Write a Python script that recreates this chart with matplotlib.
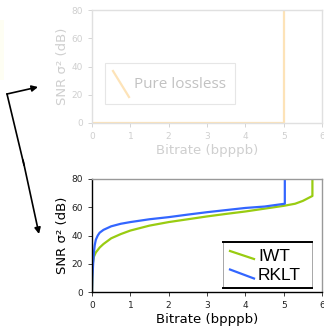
import matplotlib
matplotlib.use("Agg")
import matplotlib.pyplot as plt

# ---- data ----
lossless_x = [0, 5, 5]
lossless_y = [0, 0, 80]

iwt_x = [0, 0.01, 0.02, 0.05, 0.1, 0.2, 0.3, 0.5, 0.75, 1.0, 1.5, 2.0, 2.5, 3.0, 3.5, 4.0, 4.5, 5.0, 5.3, 5.5, 5.75, 5.75]
iwt_y = [0, 12, 20, 25, 28, 31.5, 34, 38, 41, 43.5, 47, 49.5, 51.5, 53.5, 55.3, 57, 59, 61, 62.5, 64.5, 68, 80]

rklt_x = [0, 0.01, 0.03, 0.05, 0.07, 0.1, 0.15, 0.2, 0.3, 0.5, 0.75, 1.0, 1.5, 2.0, 2.5, 3.0, 3.5, 4.0, 4.5, 5.03, 5.03]
rklt_y = [0, 10, 20, 28, 33, 37, 40, 42, 44, 46.5, 48.3, 49.5, 51.5, 53, 54.8, 56.5, 58, 59.5, 60.5, 62.5, 80]

xticks = [0, 1, 2, 3, 4, 5, 6]
yticks = [0, 20, 40, 60, 80]

labels_top = ["Pure lossless"]
labels_bottom = ["IWT", "RKLT"]

W, H = 324, 327
C_LOSSLESS = "#fde3b8"
C_IWT = "#99cc11"
C_RKLT = "#3366ff"

fig = plt.figure(figsize=(W / 100, H / 100), dpi=100)

# ---- top (faded) axes ----
fade = "#cfcfcf"
ax1 = fig.add_axes([92 / W, 1 - 123 / H, 230 / W, 113 / H])
ax1.plot(lossless_x, lossless_y, color=C_LOSSLESS, lw=1.6, label=labels_top[0])
ax1.set_xlim(0, 6)
ax1.set_ylim(0, 80)
ax1.set_xticks(xticks)
ax1.set_yticks(yticks)
ax1.tick_params(labelsize=6.5, colors=fade, length=3, width=0.6)
for s in ax1.spines.values():
    s.set_color("#e0e0e0")
    s.set_linewidth(1.0)
ax1.set_xlabel("Bitrate (bpppb)", fontsize=9.5, color=fade, labelpad=2)
ax1.set_ylabel("SNR σ² (dB)", fontsize=9.5, color=fade, labelpad=2)

# ---- bottom axes ----
ax2 = fig.add_axes([92 / W, 1 - 292 / H, 230 / W, 113 / H])
ax2.plot(iwt_x, iwt_y, color=C_IWT, lw=1.6, label=labels_bottom[0])
ax2.plot(rklt_x, rklt_y, color=C_RKLT, lw=1.6, label=labels_bottom[1])
ax2.set_xlim(0, 6)
ax2.set_ylim(0, 80)
ax2.set_xticks(xticks)
ax2.set_yticks(yticks)
ax2.tick_params(labelsize=6.5, colors="#222222", length=3, width=0.6)
ax2.spines["left"].set_color("black")
ax2.spines["bottom"].set_color("black")
ax2.spines["top"].set_color("#999999")
ax2.spines["right"].set_color("#999999")
for s in ax2.spines.values():
    s.set_linewidth(1.0)
ax2.set_xlabel("Bitrate (bpppb)", fontsize=9.5, labelpad=2)
ax2.set_ylabel("SNR σ² (dB)", fontsize=9.5, labelpad=2)

# ---- overlay: arrows and hand-drawn legends (pixel coordinates) ----
ov = fig.add_axes([0, 0, 1, 1], facecolor="none")
ov.set_xlim(0, W)
ov.set_ylim(H, 0)
ov.axis("off")
ov.add_patch(plt.Rectangle((0, 20), 4, 60, color="#fefef3", lw=0))
ov.plot([7, 24], [94, 165], color="black", lw=1.2)
ov.annotate("", xy=(38, 87), xytext=(7, 94),
            arrowprops=dict(arrowstyle="-|>", color="black", lw=1.2,
                            mutation_scale=9, shrinkA=0, shrinkB=0))
ov.annotate("", xy=(39, 234), xytext=(23, 160),
            arrowprops=dict(arrowstyle="-|>", color="black", lw=1.2,
                            mutation_scale=9, shrinkA=0, shrinkB=0))

# top legend
ov.add_patch(plt.Rectangle((105, 63), 130, 41, facecolor="white",
                           edgecolor="#e6e6e6", lw=0.8, zorder=3))
ov.plot([113, 129], [71, 97], color=C_LOSSLESS, lw=1.6, zorder=4)
ov.text(134, 87.5, labels_top[0], fontsize=11, family="Open Sans",
        color="#c2c2c2", va="baseline", ha="left", zorder=4)

# bottom legend
ov.add_patch(plt.Rectangle((223, 242), 89, 46, facecolor="white",
                           edgecolor="#999999", lw=0.6, zorder=3))
ov.plot([223, 312], [242, 242], color="black", lw=1.4, zorder=4)
ov.plot([223, 312], [288, 288], color="black", lw=1.4, zorder=4)
ov.plot([230, 254], [251, 259], color=C_IWT, lw=1.6, zorder=4)
ov.plot([230, 254], [269.5, 278.5], color=C_RKLT, lw=1.6, zorder=4)
ov.text(258, 261, labels_bottom[0], fontsize=12.5, family="Liberation Sans",
        color="black", va="baseline", ha="left", zorder=4)
ov.text(258, 280, labels_bottom[1], fontsize=12.5, family="Liberation Sans",
        color="black", va="baseline", ha="left", zorder=4)

fig.savefig("out.png", dpi=100)
